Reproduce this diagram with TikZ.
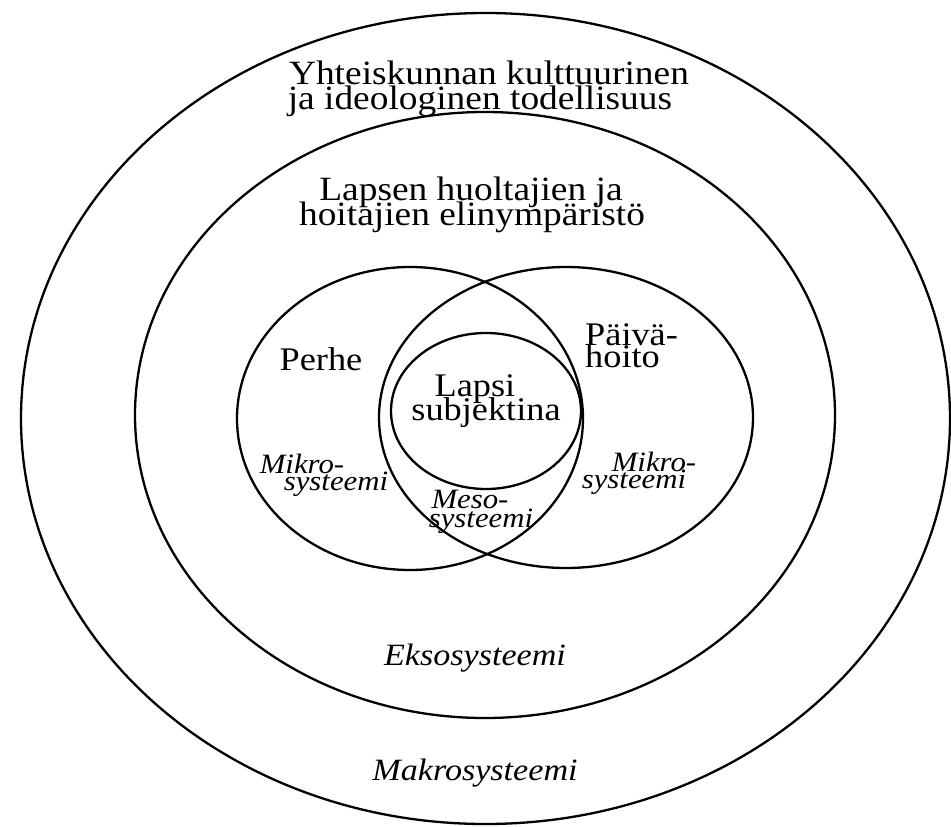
\documentclass[tikz,border=0pt]{standalone}
\usepackage{fontspec}
\setmainfont[FakeStretch=1.1]{Liberation Serif}
\begin{document}
\begin{tikzpicture}[x=1pt,y=-1pt,
  ring/.style={line width=2.3pt, draw=black},
  big/.style={inner sep=0pt, anchor=base, font=\fontsize{34}{34}\selectfont},
  mid/.style={inner sep=0pt, anchor=base, font=\fontsize{33}{33}\selectfont},
  ital/.style={inner sep=0pt, anchor=base, font=\fontsize{28}{28}\selectfont\itshape},
  italbig/.style={inner sep=0pt, anchor=base, font=\fontsize{31}{31}\selectfont\itshape}]
\useasboundingbox (0,0) rectangle (951,827);
\fill[white] (0,0) rectangle (951,827);
% ellipses
\draw[ring] (485.5,418.5) ellipse [x radius=464.5pt, y radius=405.5pt];
\draw[ring] (485,415) ellipse [x radius=350pt, y radius=303pt];
\draw[ring] (410,418.5) ellipse [x radius=173pt, y radius=151.5pt];
\draw[ring] (566,417.5) ellipse [x radius=187pt, y radius=150.5pt];
\draw[ring] (486,411) ellipse [x radius=95pt, y radius=78pt];
% labels
\node[big] (top1) at (489,84) {Yhteiskunnan kulttuurinen};
\node[big] (top2) at (480,109) {ja ideologinen todellisuus};
\node[big] (lap1) at (471,200) {Lapsen huoltajien ja};
\node[big] (lap2) at (472,225) {hoitajien elinympäristö};
\node[mid] (perhe) at (321,370) {Perhe};
\node[mid, anchor=base west] (paiva1) at (585,345) {Päivä-};
\node[mid, anchor=base west] (paiva2) at (585,367) {hoito};
\node[mid] (lapsi1) at (475,396) {Lapsi};
\node[mid] (lapsi2) at (486,420) {subjektina};
\node[ital] (mikl1) at (302,473) {Mikro-};
\node[ital] (mikl2) at (336,490) {systeemi};
\node[ital] (mikr1) at (654,471) {Mikro-};
\node[ital] (mikr2) at (634,488) {systeemi};
\node[ital] (meso1) at (470,508) {Meso-};
\node[ital] (meso2) at (481,527) {systeemi};
\node[italbig] (ekso) at (475,665) {Eksosysteemi};
\node[italbig] (makro) at (475,780) {Makrosysteemi};
\end{tikzpicture}
\end{document}
